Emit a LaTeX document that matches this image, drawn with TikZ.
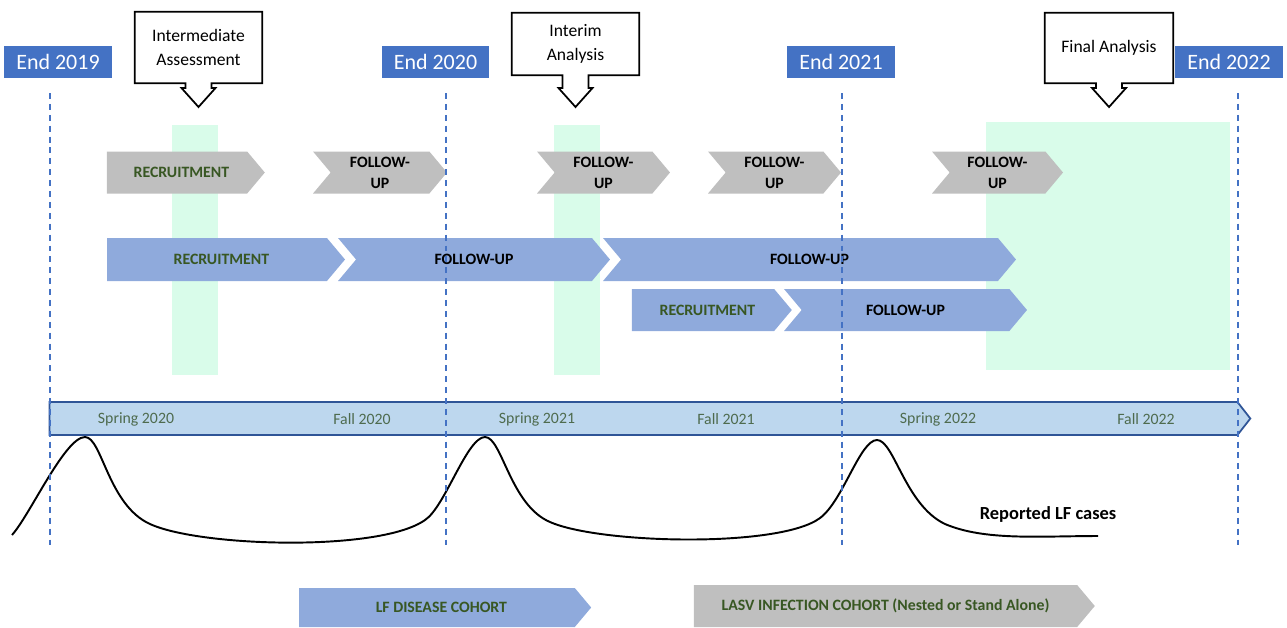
\documentclass[tikz,border=0pt]{standalone}
\usepackage{fontspec}
\setmainfont{Carlito}
\usetikzlibrary{shapes.symbols,calc}

\definecolor{endblue}{HTML}{4472C4}
\definecolor{chevgray}{HTML}{BFBFBF}
\definecolor{chevblue}{HTML}{8FAADC}
\definecolor{mint}{HTML}{D9FCEA}
\definecolor{barblue}{HTML}{BDD7EE}
\definecolor{bardark}{HTML}{2F5597}
\definecolor{recgreen}{HTML}{385723}
\definecolor{seasongreen}{HTML}{4E6B4E}

\tikzset{
  yearbox/.style={fill=endblue, text=white, minimum width=2.16cm, minimum height=0.64cm,
    inner sep=0pt, font=\fontsize{12.5}{14}\selectfont},
  calloutbox/.style={minimum width=2.54cm, inner sep=0pt, align=center,
    font=\fontsize{10}{14}\selectfont},
  callout/.style={draw=black, line width=1pt, line join=miter},
  chev/.style={signal, signal to=east, signal pointer angle=100, inner sep=0pt,
    align=center, font=\bfseries\fontsize{9}{12}\selectfont},
  graychev/.style={chev, fill=chevgray, minimum height=0.84cm},
  bluechev/.style={chev, fill=chevblue, minimum height=0.86cm},
  notched/.style={signal from=west},
  season/.style={text=seasongreen, font=\fontsize{9}{11}\selectfont},
  yeardash/.style={draw=endblue, dash pattern=on 3.4pt off 2.8pt, line width=0.8pt},
}

\begin{document}
\begin{tikzpicture}[x=0.02cm, y=-0.02cm]
    \useasboundingbox (0,0) rectangle (1287,627);

    % Markierungen im Hintergrund
    \fill[mint] (172,125) rectangle (218,375);
    \fill[mint] (554,125) rectangle (600,375);
    \fill[mint] (986,122) rectangle (1230,370);

    % Jahresenden
    \node[yearbox] (e19) at (58,62) {End 2019};
    \node[yearbox] (e20) at (435.5,62) {End 2020};
    \node[yearbox] (e21) at (841,62) {End 2021};
    \node[yearbox] (e22) at (1229,62) {End 2022};

    % Analysen
    \node[calloutbox, minimum height=1.42cm] (ia) at (198.5,47.5) {Intermediate\\Assessment};
    \node[calloutbox, minimum height=1.24cm] (iaa) at (575.5,44) {Interim\\Analysis};
    \node[calloutbox, minimum width=2.56cm, minimum height=1.4cm] (fa) at (1109,48) {Final Analysis};
    \coordinate (ia-tip) at (198.5,107);
    \coordinate (iaa-tip) at (575.5,107);
    \coordinate (fa-tip) at (1109,107);

    \foreach \c in {ia,iaa,fa}
      \draw[callout] (\c.south west) -- (\c.north west) -- (\c.north east) -- (\c.south east)
        -- ($(\c.south)+(13,0)$) -- ($(\c-tip)+(13,-19)$) -- ($(\c-tip)+(17,-19)$) -- (\c-tip)
        -- ($(\c-tip)+(-17,-19)$) -- ($(\c-tip)+(-13,-19)$) -- ($(\c.south)+(-13,0)$) -- cycle;

    % LASV-Kohorte
    \node[graychev, minimum width=3.16cm, text=recgreen] (grec) at (177,172.5) {\hspace*{5pt}RECRUITMENT};
    \node[graychev, notched, minimum width=2.68cm] (gfu1) at (380,172.5) {FOLLOW-\\UP};
    \node[graychev, notched, minimum width=2.66cm] (gfu2) at (603.5,172.5) {FOLLOW-\\UP};
    \node[graychev, notched, minimum width=2.66cm] (gfu3) at (774.5,172.5) {FOLLOW-\\UP};
    \node[graychev, notched, minimum width=2.62cm] (gfu4) at (997.5,172.5) {FOLLOW-\\UP};

    % LF-Kohorte
    \node[bluechev, minimum width=4.76cm, text=recgreen] (brec) at (217,259.5) {\hspace*{5pt}RECRUITMENT};
    \node[bluechev, notched, minimum width=5.44cm] (bfu1) at (474,259.5) {FOLLOW-UP};
    \node[bluechev, notched, minimum width=8.26cm] (bfu2) at (809.5,259.5) {FOLLOW-UP};
    \node[bluechev, minimum width=3.2cm, minimum height=0.84cm, text=recgreen] (crec) at (703,310) {\hspace*{5pt}RECRUITMENT};
    \node[bluechev, notched, minimum width=4.86cm, minimum height=0.84cm] (cfu) at (905.5,310) {FOLLOW-UP};

    % Zeitachse
    \node[signal, signal to=east, signal pointer angle=104, fill=barblue, draw=bardark,
      line width=1pt, minimum width=24.02cm, minimum height=0.66cm, inner sep=0pt] (bar) at (643.5,418.5) {};
    \foreach \x/\t [count=\i] in {136/Spring 2020, 362/Fall 2020, 537/Spring 2021,
        726/Fall 2021, 938/Spring 2022, 1146/Fall 2022}
      \node[season] (s\i) at (\x,419) {\t};

    % Fallzahlen
    \draw[line width=1.1pt] (12,535) .. controls (30,515) and (65,437) .. (85,437)
      .. controls (102,437) and (108,505) .. (150,524)
      .. controls (200,547) and (380,552) .. (425,520)
      .. controls (445,507) and (467,437) .. (485,437)
      .. controls (502,437) and (510,505) .. (550,522)
      .. controls (600,544) and (780,548) .. (820,518)
      .. controls (843,501) and (860,440) .. (877,440)
      .. controls (894,440) and (905,505) .. (945,524)
      .. controls (985,541) and (1040,536) .. (1098,536);
    \node[font=\bfseries\fontsize{10.5}{12}\selectfont] (cases) at (1048,514) {Reported LF cases};

    % Jahresgrenzen
    \foreach \x in {50,446,842,1238}
      \draw[yeardash] (\x,93) -- (\x,545);

    % Legende
    \node[chev, fill=chevblue, minimum width=5.84cm, minimum height=0.78cm, text=recgreen] (lflegend) at (437,607.5) {\hspace*{5pt}LF DISEASE COHORT};
    \node[chev, fill=chevgray, minimum width=8.02cm, minimum height=0.84cm, text=recgreen] (lasvlegend) at (885.5,606) {LASV INFECTION COHORT (Nested or Stand Alone)};
  \end{tikzpicture}
\end{document}
